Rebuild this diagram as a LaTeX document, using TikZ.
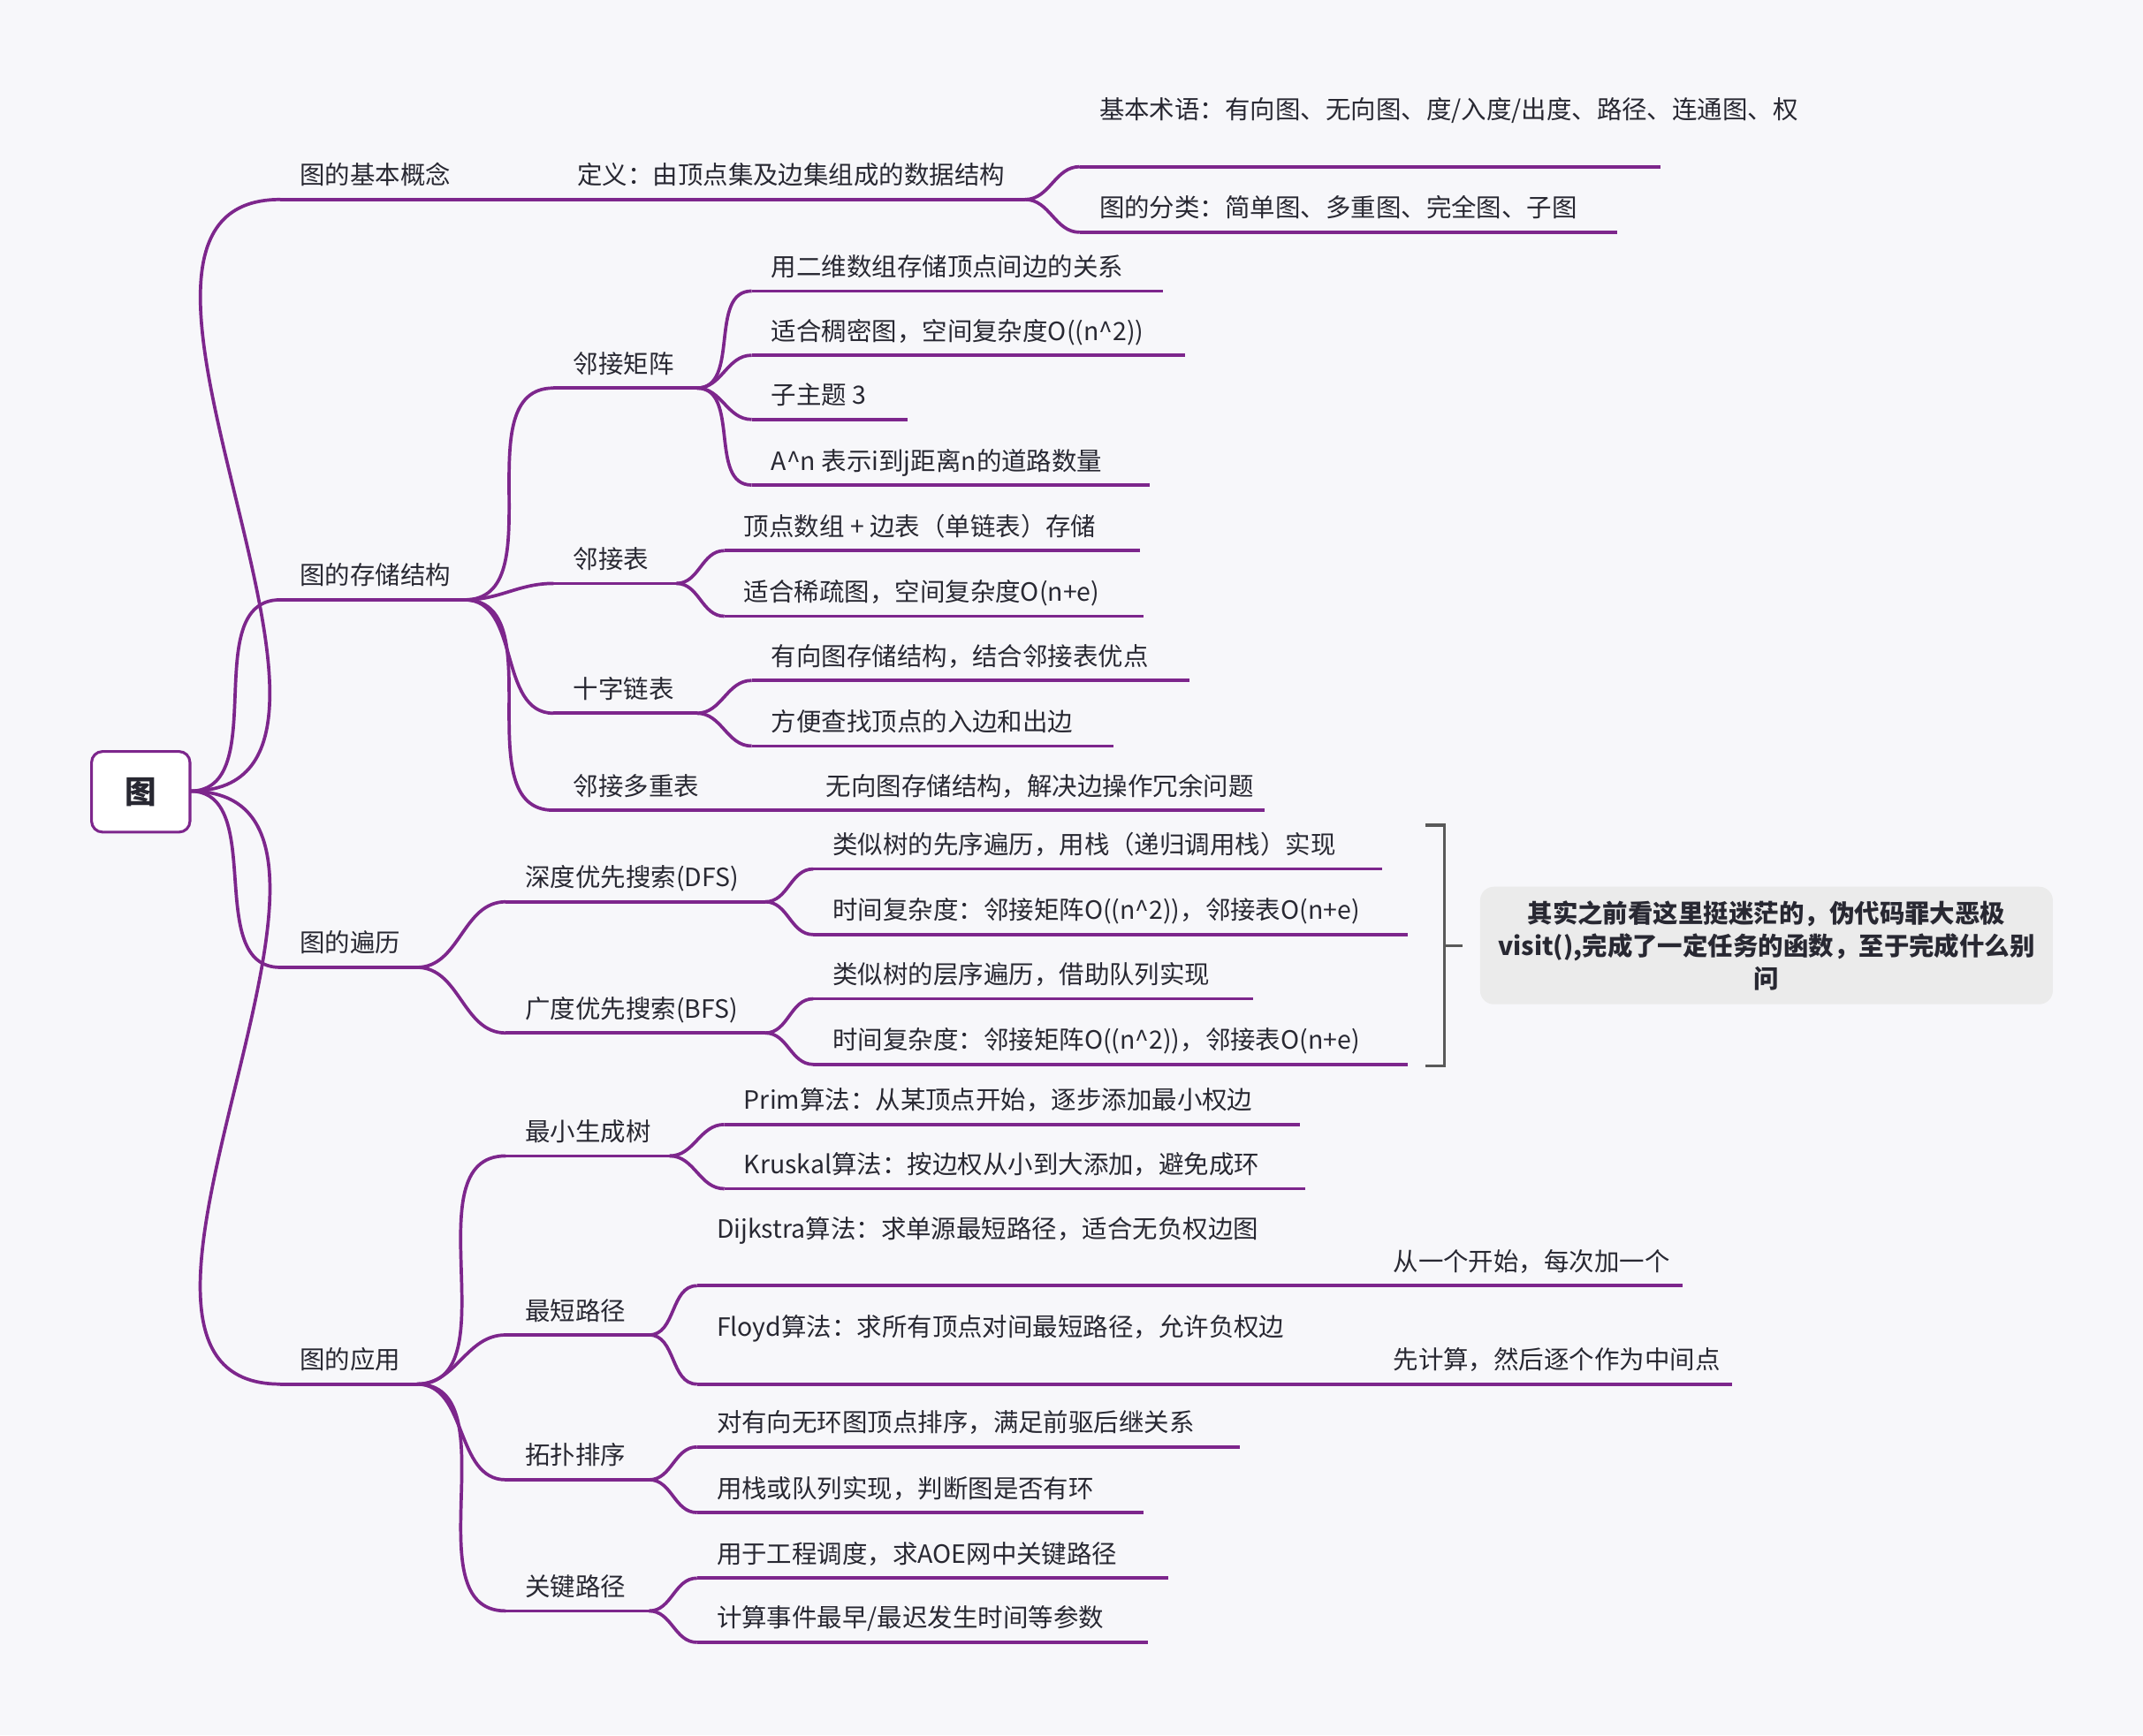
\documentclass[tikz,border=0pt]{standalone}
\usepackage{fontspec}
\setmainfont{Noto Sans CJK SC}
\definecolor{pur}{RGB}{125,38,140}
\definecolor{bg}{RGB}{247,247,250}
\definecolor{txt}{RGB}{40,40,50}
\tikzset{ul/.style={draw=pur,line width=1.2pt},
lbl/.style={inner sep=0pt,anchor=base west,font=\fontsize{9.2}{12}\selectfont,text=txt,align=left}}
\newcommand\topic[5]{\coordinate (#1s) at (#2,#4); \coordinate (#1e) at (#3,#4);
 \draw[ul] (#1s)--(#1e); \node[lbl] (#1) at (#2+14,#4-11) {#5};}
\newcommand\topicw[5]{\coordinate (#1s) at (#2,#4); \coordinate (#1e) at (#3,#4);
 \draw[ul] (#1s)--(#1e); \node[lbl,text width=196pt] (#1) at (#2+14,#4-35) {#5};}
\newcommand\link[2]{\draw[ul] (#1e) to[out=0,in=180] (#2s);}
\begin{document}
\begin{tikzpicture}[x=0.5pt,y=-0.5pt]
\useasboundingbox[fill=bg] (0,0) rectangle (1568,1270);
% root
\node[draw=pur,line width=1pt,rounded corners=4pt,fill=white,minimum width=36pt,minimum height=29.5pt,font=\fontsize{11.5}{13}\selectfont\bfseries,text=txt] (root) at (103,579.5) {图};
\coordinate (roote) at (139,579);
% level 1
\topic{a}{205}{340}{146}{图的基本概念}
\topic{b}{205}{340}{439}{图的存储结构}
\topic{c}{205}{305}{708}{图的遍历}
\topic{d}{205}{305}{1013}{图的应用}
\foreach \t in {a,b,c,d}{\draw[ul] (roote) to[out=0,in=180] (\t s);}
% concept
\topic{a1}{408}{750}{146}{定义：由顶点集及边集组成的数据结构}
\draw[ul] (ae)--(a1s);
\topicw{a11}{790}{1215}{122}{基本术语：有向图、无向图、度/入度/出度、路径、连通图、权}
\topic{a12}{790}{1183}{170}{图的分类：简单图、多重图、完全图、子图}
\link{a1}{a11}\link{a1}{a12}
% storage
\topic{b1}{405}{510}{284}{邻接矩阵}
\topic{b2}{405}{495}{427}{邻接表}
\topic{b3}{405}{510}{522}{十字链表}
\topic{b4}{405}{590}{593}{邻接多重表}
\foreach \t in {b1,b2,b3,b4}{\draw[ul] (be) to[out=0,in=180] (\t s);}
\topic{b11}{550}{851}{213}{用二维数组存储顶点间边的关系}
\topic{b12}{550}{867}{260}{适合稠密图，空间复杂度O((n\^{}2))}
\topic{b13}{550}{664}{307}{子主题 3}
\topic{b14}{550}{841}{355}{A\^{}n 表示i到j距离n的道路数量}
\foreach \t in {b11,b12,b13,b14}{\draw[ul] (b1e) to[out=0,in=180] (\t s);}
\topic{b21}{530}{834}{403}{顶点数组 + 边表（单链表）存储}
\topic{b22}{530}{837}{451}{适合稀疏图，空间复杂度O(n+e)}
\link{b2}{b21}\link{b2}{b22}
\topic{b31}{550}{870}{498}{有向图存储结构，结合邻接表优点}
\topic{b32}{550}{815}{546}{方便查找顶点的入边和出边}
\link{b3}{b31}\link{b3}{b32}
\topic{b41}{590}{925}{593}{无向图存储结构，解决边操作冗余问题}
\draw[ul] (b4e)--(b41s);
% traversal
\topic{c1}{370}{560}{660}{深度优先搜索(DFS)}
\topic{c2}{370}{560}{756}{广度优先搜索(BFS)}
\link{c}{c1}\link{c}{c2}
\topic{c11}{595}{1011}{636}{类似树的先序遍历，用栈（递归调用栈）实现}
\topic{c12}{595}{1030}{684}{时间复杂度：邻接矩阵O((n\^{}2))，邻接表O(n+e)}
\link{c1}{c11}\link{c1}{c12}
\topic{c21}{595}{917}{731}{类似树的层序遍历，借助队列实现}
\topic{c22}{595}{1030}{779}{时间复杂度：邻接矩阵O((n\^{}2))，邻接表O(n+e)}
\link{c2}{c21}\link{c2}{c22}
\coordinate (brt) at (1043,604); \coordinate (brb) at (1043,780);
\coordinate (brm) at (1057,692); \coordinate (brp) at (1070,692);
\draw[line width=1.1pt,draw=black!65] (brt)-|(brm)|-(brb) (brm)--(brp);
\node[fill=black!8,rounded corners=5pt,minimum width=209.5pt,minimum height=43pt,align=center,font=\fontsize{9.2}{12}\selectfont\bfseries,text=txt] (note) at (1292.5,692) {其实之前看这里挺迷茫的，伪代码罪大恶极\\visit(),完成了一定任务的函数，至于完成什么别\\问};
% application
\topic{d1}{370}{490}{846}{最小生成树}
\topic{d2}{370}{475}{977}{最短路径}
\topic{d3}{370}{475}{1083}{拓扑排序}
\topic{d4}{370}{475}{1179}{关键路径}
\foreach \t in {d1,d2,d3,d4}{\draw[ul] (de) to[out=0,in=180] (\t s);}
\topic{d11}{530}{951}{823}{Prim算法：从某顶点开始，逐步添加最小权边}
\topic{d12}{530}{955}{870}{Kruskal算法：按边权从小到大添加，避免成环}
\link{d1}{d11}\link{d1}{d12}
\topicw{d21}{510}{1005}{941}{Dijkstra算法：求单源最短路径，适合无负权边图}
\topicw{d22}{510}{1005}{1013}{Floyd算法：求所有顶点对间最短路径，允许负权边}
\link{d2}{d21}\link{d2}{d22}
\topic{d211}{1005}{1231}{941}{从一个开始，每次加一个}
\topic{d221}{1005}{1267}{1013}{先计算，然后逐个作为中间点}
\draw[ul] (d21e)--(d211s); \draw[ul] (d22e)--(d221s);
\topic{d31}{510}{907}{1059}{对有向无环图顶点排序，满足前驱后继关系}
\topic{d32}{510}{837}{1107}{用栈或队列实现，判断图是否有环}
\link{d3}{d31}\link{d3}{d32}
\topic{d41}{510}{855}{1155}{用于工程调度，求AOE网中关键路径}
\topic{d42}{510}{840}{1202}{计算事件最早/最迟发生时间等参数}
\link{d4}{d41}\link{d4}{d42}
\end{tikzpicture}
\end{document}
